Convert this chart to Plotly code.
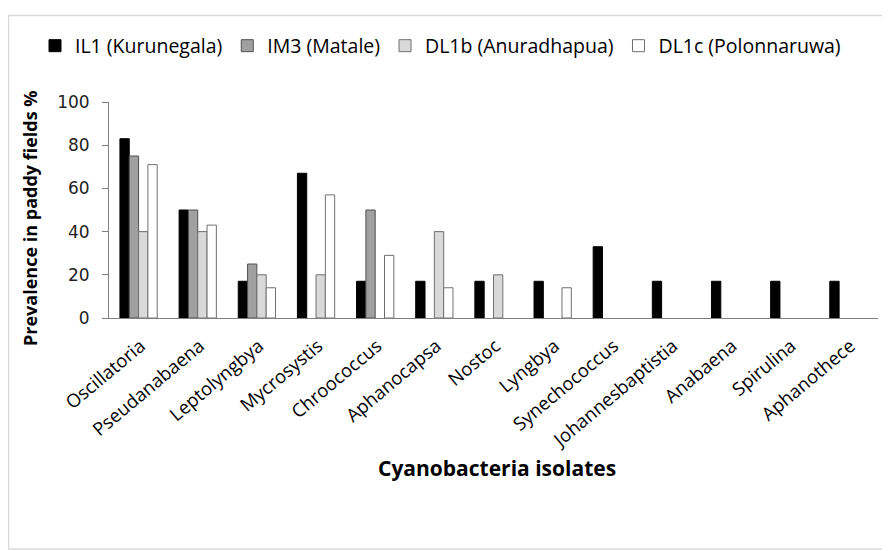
import plotly.graph_objects as go

categories = ["Oscillatoria", "Pseudanabaena", "Leptolyngbya", "Mycrosystis", "Chroococcus",
              "Aphanocapsa", "Nostoc", "Lyngbya", "Synechococcus", "Johannesbaptistia",
              "Anabaena", "Spirulina", "Aphanothece"]
il1 = [83, 50, 17, 67, 17, 17, 17, 17, 33, 17, 17, 17, 17]
im3 = [75, 50, 25, 0, 50, 0, 0, 0, 0, 0, 0, 0, 0]
dl1b = [40, 40, 20, 20, 0, 40, 20, 0, 0, 0, 0, 0, 0]
dl1c = [71, 43, 14, 57, 29, 14, 0, 14, 0, 0, 0, 0, 0]
series_names = ["IL1 (Kurunegala)", "IM3 (Matale)", "DL1b (Anuradhapua)", "DL1c (Polonnaruwa)"]
y_ticks = [0, 20, 40, 60, 80, 100]

series = [il1, im3, dl1b, dl1c]
fills = ["#000000", "#a0a0a0", "#d9d9d9", "#ffffff"]
lines = ["#000000", "#505050", "#707070", "#707070"]

fig = go.Figure()
for name, vals, fc, lc in zip(series_names, series, fills, lines):
    fig.add_trace(go.Bar(
        x=categories, y=[v if v else None for v in vals], name=name,
        marker=dict(color=fc, line=dict(color=lc, width=1)),
    ))

# page has an 8px body margin; figure sized so it fills the 890x551 window
OFF = 8
W, H = 882, 543
L, R, T, B = 101, 12, 94, 233
PW, PH = W - L - R, H - T - B


def px(sx):
    return (sx - OFF - L) / PW


def py(sy):
    return (H - B - (sy - OFF)) / PH


fig.update_layout(
    width=W, height=H,
    margin=dict(l=L, r=R, t=T, b=B, autoexpand=False),
    paper_bgcolor="white", plot_bgcolor="white",
    barmode="group", bargap=0.37, bargroupgap=0.0,
    font=dict(family="Open Sans", color="#000000"),
    showlegend=True,
    legend=dict(orientation="h", x=px(35), y=py(46), xanchor="left", yanchor="middle",
                font=dict(family="Open Sans", size=19.5, color="#000"), traceorder="normal",
                itemwidth=30, bgcolor="rgba(0,0,0,0)"),
    xaxis=dict(showline=True, linecolor="#808080", linewidth=1, ticks="",
               tickangle=-40, tickfont=dict(family="Open Sans", size=18.5, color="#000"),
               ticklabelstandoff=9, ticklabelshift=2,
               showgrid=False, automargin=False),
    yaxis=dict(range=[0, 100], tickvals=y_ticks, showline=True, linecolor="#808080",
               linewidth=1, ticks="outside", ticklen=6, tickcolor="#808080",
               tickfont=dict(family="DejaVu Sans", size=17, color="#222"),
               ticklabelstandoff=9,
               showgrid=False, zeroline=False, automargin=False),
    annotations=[
        dict(text="<b>Prevalence in paddy fields %</b>", xref="paper", yref="paper",
             x=px(30), y=py(218), textangle=-90, showarrow=False,
             xanchor="center", yanchor="middle",
             font=dict(family="Open Sans", size=18, color="#000")),
        dict(text="<b>Cyanobacteria isolates</b>", xref="paper", yref="paper",
             x=px(497), y=py(468), showarrow=False,
             xanchor="center", yanchor="middle",
             font=dict(family="Open Sans", size=21, color="#000")),
    ],
    shapes=[dict(type="rect", xref="paper", yref="paper",
                 x0=px(8.5), x1=px(900),
                 y0=py(549), y1=py(15.5),
                 line=dict(color="#d9d9d9", width=1.5), layer="below")],
)

fig.write_html("out.html")
